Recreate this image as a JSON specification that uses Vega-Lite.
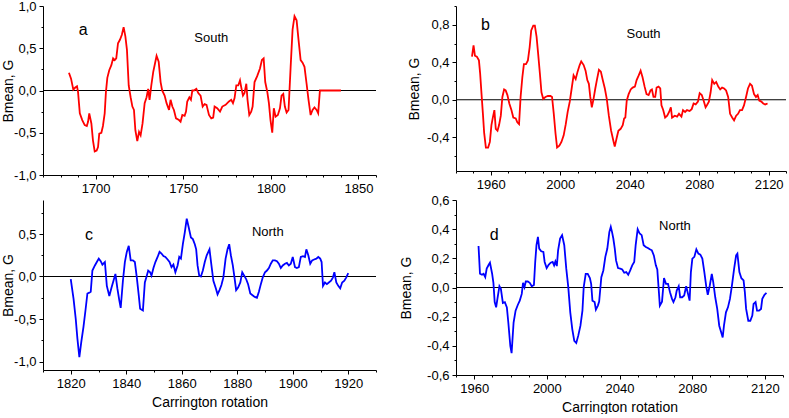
{
"$schema": "https://vega.github.io/schema/vega-lite/v6.json",
"padding": {"left": 1, "top": 0, "right": 0, "bottom": 0},
"config": {
  "view": {"stroke": null},
  "font": "Liberation Sans",
  "axis": {"domainColor": "black", "tickColor": "black", "labelColor": "black", "titleColor": "black", "labelFont": "Liberation Sans", "titleFont": "Liberation Sans", "labelFontSize": 13, "titleFontSize": 14, "titleFontWeight": "normal", "grid": false, "labelPadding": 3, "tickSize": 4, "domainWidth": 1, "tickWidth": 1, "labelOverlap": false, "labelBound": false, "tickCount": 100}
},
"datasets": {
"a": [{"r":1684.8,"B":0.21},{"r":1686,"B":0.14},{"r":1687.3,"B":0.01},{"r":1688.4,"B":0.035},{"r":1689.4,"B":0.05},{"r":1690,"B":-0.02},{"r":1691,"B":-0.27},{"r":1692.4,"B":-0.35},{"r":1693.8,"B":-0.41},{"r":1695,"B":-0.42},{"r":1695.7,"B":-0.37},{"r":1696.4,"B":-0.27},{"r":1697.6,"B":-0.39},{"r":1698.5,"B":-0.59},{"r":1699.5,"B":-0.72},{"r":1700.6,"B":-0.71},{"r":1701.4,"B":-0.67},{"r":1702.1,"B":-0.51},{"r":1703.3,"B":-0.5},{"r":1704.2,"B":-0.42},{"r":1705.2,"B":-0.27},{"r":1705.9,"B":-0.02},{"r":1706.7,"B":0.15},{"r":1707.8,"B":0.24},{"r":1709,"B":0.3},{"r":1710,"B":0.38},{"r":1710.9,"B":0.36},{"r":1711.8,"B":0.38},{"r":1712.8,"B":0.56},{"r":1713.9,"B":0.6},{"r":1715,"B":0.66},{"r":1716,"B":0.75},{"r":1717,"B":0.64},{"r":1717.9,"B":0.48},{"r":1718.9,"B":0.06},{"r":1720,"B":-0.08},{"r":1721,"B":-0.19},{"r":1721.9,"B":-0.23},{"r":1722.7,"B":-0.47},{"r":1723.8,"B":-0.6},{"r":1724.8,"B":-0.49},{"r":1725.7,"B":-0.53},{"r":1726.8,"B":-0.39},{"r":1728,"B":-0.15},{"r":1729.1,"B":-0.08},{"r":1730,"B":0.02},{"r":1730.8,"B":-0.11},{"r":1731.8,"B":0.06},{"r":1732.9,"B":0.22},{"r":1733.9,"B":0.32},{"r":1734.8,"B":0.41},{"r":1736,"B":0.34},{"r":1737.1,"B":0.1},{"r":1738,"B":0.0},{"r":1739.4,"B":-0.06},{"r":1740.5,"B":-0.15},{"r":1741.9,"B":-0.23},{"r":1742.8,"B":-0.11},{"r":1743.8,"B":-0.19},{"r":1744.7,"B":-0.23},{"r":1745.9,"B":-0.33},{"r":1747.6,"B":-0.35},{"r":1748.5,"B":-0.37},{"r":1749.5,"B":-0.29},{"r":1750.8,"B":-0.3},{"r":1751.6,"B":-0.25},{"r":1752.3,"B":-0.13},{"r":1753.5,"B":-0.08},{"r":1754.4,"B":-0.11},{"r":1755.2,"B":0.0},{"r":1756.1,"B":0.0},{"r":1757.5,"B":0.02},{"r":1758.6,"B":-0.03},{"r":1759.9,"B":-0.06},{"r":1761.1,"B":-0.19},{"r":1762.2,"B":-0.16},{"r":1763.3,"B":-0.17},{"r":1764.7,"B":-0.29},{"r":1766,"B":-0.33},{"r":1767.1,"B":-0.32},{"r":1767.9,"B":-0.19},{"r":1769.4,"B":-0.21},{"r":1771,"B":-0.25},{"r":1772.3,"B":-0.19},{"r":1774.2,"B":-0.17},{"r":1776.1,"B":-0.13},{"r":1777.4,"B":-0.11},{"r":1778.4,"B":-0.15},{"r":1779.3,"B":-0.09},{"r":1780.3,"B":0.06},{"r":1781.4,"B":0.06},{"r":1782.4,"B":0.12},{"r":1783.1,"B":0.04},{"r":1784.1,"B":-0.06},{"r":1785,"B":-0.03},{"r":1786,"B":0.08},{"r":1786.7,"B":-0.11},{"r":1787.7,"B":-0.29},{"r":1788.8,"B":-0.25},{"r":1789.6,"B":-0.19},{"r":1790.7,"B":0.1},{"r":1792.2,"B":0.17},{"r":1793.8,"B":0.26},{"r":1794.9,"B":0.36},{"r":1795.9,"B":0.38},{"r":1796.8,"B":0.1},{"r":1798,"B":-0.02},{"r":1798.9,"B":-0.15},{"r":1799.8,"B":-0.35},{"r":1800.8,"B":-0.5},{"r":1801.7,"B":-0.21},{"r":1802.7,"B":-0.31},{"r":1804,"B":-0.29},{"r":1805.2,"B":-0.21},{"r":1806.1,"B":-0.06},{"r":1807.1,"B":-0.04},{"r":1808,"B":-0.19},{"r":1809,"B":-0.26},{"r":1810.1,"B":-0.23},{"r":1811.3,"B":0.28},{"r":1812.4,"B":0.72},{"r":1813.5,"B":0.88},{"r":1814.7,"B":0.83},{"r":1815.8,"B":0.6},{"r":1817,"B":0.36},{"r":1818.1,"B":0.33},{"r":1819.2,"B":0.28},{"r":1820.4,"B":0.08},{"r":1821.5,"B":-0.11},{"r":1822.7,"B":-0.29},{"r":1823.8,"B":-0.23},{"r":1824.9,"B":-0.2},{"r":1826.1,"B":-0.23},{"r":1827,"B":-0.27},{"r":1828,"B":0.0},{"r":1840,"B":0.0}],
"b": [{"r":1949.2,"B":0.46},{"r":1950.1,"B":0.58},{"r":1950.9,"B":0.47},{"r":1952,"B":0.46},{"r":1953.2,"B":0.42},{"r":1953.9,"B":0.28},{"r":1954.7,"B":0.06},{"r":1955.5,"B":-0.15},{"r":1956.2,"B":-0.35},{"r":1957.2,"B":-0.51},{"r":1958.5,"B":-0.51},{"r":1959.5,"B":-0.45},{"r":1960.4,"B":-0.27},{"r":1961.2,"B":-0.19},{"r":1962.1,"B":-0.11},{"r":1962.9,"B":-0.31},{"r":1963.9,"B":-0.33},{"r":1964.8,"B":-0.27},{"r":1965.8,"B":-0.17},{"r":1966.7,"B":0.03},{"r":1967.7,"B":0.11},{"r":1968.6,"B":0.1},{"r":1969.6,"B":0.05},{"r":1970.7,"B":-0.04},{"r":1971.9,"B":-0.11},{"r":1973,"B":-0.19},{"r":1974.4,"B":-0.2},{"r":1975.3,"B":-0.24},{"r":1976.3,"B":-0.26},{"r":1977.2,"B":0.03},{"r":1978.2,"B":0.24},{"r":1979.1,"B":0.38},{"r":1980.3,"B":0.38},{"r":1981.4,"B":0.42},{"r":1982.4,"B":0.56},{"r":1983.3,"B":0.74},{"r":1984.5,"B":0.79},{"r":1985.4,"B":0.79},{"r":1986.4,"B":0.67},{"r":1987.3,"B":0.49},{"r":1988.3,"B":0.28},{"r":1989.2,"B":0.08},{"r":1990.2,"B":0.01},{"r":1991.5,"B":0.03},{"r":1992.9,"B":0.04},{"r":1994.4,"B":0.04},{"r":1995.3,"B":0.03},{"r":1996.3,"B":-0.15},{"r":1997.3,"B":-0.36},{"r":1998.2,"B":-0.51},{"r":1999.5,"B":-0.49},{"r":2000.7,"B":-0.45},{"r":2002,"B":-0.38},{"r":2003.2,"B":-0.26},{"r":2004.3,"B":-0.13},{"r":2005.5,"B":-0.02},{"r":2006.6,"B":0.12},{"r":2007.7,"B":0.26},{"r":2008.9,"B":0.22},{"r":2010,"B":0.3},{"r":2011.2,"B":0.37},{"r":2012.1,"B":0.41},{"r":2013.5,"B":0.37},{"r":2014.6,"B":0.31},{"r":2015.6,"B":0.21},{"r":2016.5,"B":0.17},{"r":2017.3,"B":0.03},{"r":2018.2,"B":-0.08},{"r":2019.2,"B":0.01},{"r":2020.2,"B":0.12},{"r":2021.1,"B":0.21},{"r":2022.3,"B":0.32},{"r":2023.4,"B":0.3},{"r":2024.5,"B":0.21},{"r":2025.7,"B":0.12},{"r":2026.8,"B":0.01},{"r":2028,"B":-0.17},{"r":2029.3,"B":-0.33},{"r":2030.5,"B":-0.43},{"r":2031.4,"B":-0.5},{"r":2032.6,"B":-0.4},{"r":2033.5,"B":-0.33},{"r":2034.8,"B":-0.31},{"r":2036,"B":-0.27},{"r":2036.8,"B":-0.2},{"r":2037.5,"B":-0.19},{"r":2038.3,"B":-0.01},{"r":2039.4,"B":0.06},{"r":2040.6,"B":0.11},{"r":2041.7,"B":0.13},{"r":2043,"B":0.14},{"r":2044,"B":0.21},{"r":2045.2,"B":0.26},{"r":2046.3,"B":0.31},{"r":2047.4,"B":0.24},{"r":2048.6,"B":0.14},{"r":2049.7,"B":0.06},{"r":2050.9,"B":0.05},{"r":2052,"B":0.1},{"r":2052.8,"B":0.11},{"r":2053.7,"B":0.03},{"r":2054.7,"B":0.03},{"r":2055.5,"B":0.13},{"r":2056.6,"B":0.14},{"r":2057.6,"B":0.12},{"r":2058.3,"B":-0.06},{"r":2059.3,"B":-0.11},{"r":2060.4,"B":-0.19},{"r":2061.6,"B":-0.17},{"r":2062.7,"B":-0.13},{"r":2063.7,"B":-0.08},{"r":2064.4,"B":-0.19},{"r":2066,"B":-0.17},{"r":2067.3,"B":-0.18},{"r":2068.4,"B":-0.15},{"r":2069.8,"B":-0.18},{"r":2070.7,"B":-0.11},{"r":2071.9,"B":-0.13},{"r":2073,"B":-0.11},{"r":2074.5,"B":-0.12},{"r":2075.7,"B":-0.1},{"r":2076.8,"B":-0.04},{"r":2078,"B":-0.05},{"r":2079.3,"B":-0.02},{"r":2080.3,"B":0.07},{"r":2081.5,"B":0.05},{"r":2082.6,"B":-0.01},{"r":2083.7,"B":-0.08},{"r":2084.7,"B":-0.05},{"r":2085.6,"B":-0.02},{"r":2086.6,"B":0.08},{"r":2087.5,"B":0.21},{"r":2088.7,"B":0.17},{"r":2089.8,"B":0.19},{"r":2091,"B":0.14},{"r":2092.1,"B":0.11},{"r":2093.2,"B":0.13},{"r":2094.4,"B":0.12},{"r":2095.5,"B":0.1},{"r":2096.7,"B":0.03},{"r":2097.8,"B":-0.15},{"r":2099,"B":-0.19},{"r":2100.1,"B":-0.22},{"r":2101.3,"B":-0.17},{"r":2102.4,"B":-0.15},{"r":2103.5,"B":-0.11},{"r":2104.7,"B":-0.11},{"r":2105.8,"B":-0.06},{"r":2107,"B":0.03},{"r":2108.1,"B":0.12},{"r":2109.3,"B":0.17},{"r":2110.4,"B":0.15},{"r":2111.6,"B":0.06},{"r":2112.7,"B":0.03},{"r":2113.7,"B":0.05},{"r":2114.6,"B":-0.01},{"r":2115.8,"B":-0.02},{"r":2116.9,"B":-0.04},{"r":2118,"B":-0.05},{"r":2119.4,"B":-0.04}],
"c": [{"r":1820,"B":-0.03},{"r":1821,"B":-0.26},{"r":1821.8,"B":-0.5},{"r":1822.4,"B":-0.73},{"r":1823.1,"B":-0.95},{"r":1823.8,"B":-0.77},{"r":1824.6,"B":-0.59},{"r":1825.3,"B":-0.4},{"r":1826,"B":-0.2},{"r":1826.7,"B":-0.19},{"r":1827.2,"B":-0.18},{"r":1827.8,"B":0.07},{"r":1828.7,"B":0.13},{"r":1829.4,"B":0.17},{"r":1830.1,"B":0.21},{"r":1830.8,"B":0.18},{"r":1831.4,"B":0.14},{"r":1832.3,"B":0.17},{"r":1833,"B":-0.11},{"r":1833.9,"B":-0.23},{"r":1834.7,"B":-0.13},{"r":1835.4,"B":-0.05},{"r":1836.1,"B":0.03},{"r":1836.8,"B":-0.14},{"r":1837.5,"B":-0.28},{"r":1838,"B":-0.37},{"r":1838.8,"B":-0.05},{"r":1839.5,"B":0.17},{"r":1840.2,"B":0.29},{"r":1840.9,"B":0.36},{"r":1841.6,"B":0.19},{"r":1842.4,"B":0.19},{"r":1843.1,"B":0.17},{"r":1843.8,"B":-0.01},{"r":1844.5,"B":-0.22},{"r":1845,"B":-0.38},{"r":1846,"B":-0.4},{"r":1846.7,"B":-0.07},{"r":1847.4,"B":0.01},{"r":1847.9,"B":0.07},{"r":1848.6,"B":0.05},{"r":1849.1,"B":0.01},{"r":1849.8,"B":0.1},{"r":1850.5,"B":0.17},{"r":1851.3,"B":0.23},{"r":1852,"B":0.29},{"r":1852.7,"B":0.27},{"r":1853.4,"B":0.24},{"r":1854.1,"B":0.23},{"r":1854.9,"B":0.2},{"r":1855.6,"B":0.17},{"r":1856.3,"B":0.11},{"r":1857,"B":0.14},{"r":1857.7,"B":0.05},{"r":1858.5,"B":0.13},{"r":1859.1,"B":0.23},{"r":1859.7,"B":0.21},{"r":1860.4,"B":0.38},{"r":1861.1,"B":0.52},{"r":1861.8,"B":0.68},{"r":1862.5,"B":0.58},{"r":1863.3,"B":0.46},{"r":1864,"B":0.44},{"r":1864.7,"B":0.38},{"r":1865.2,"B":0.32},{"r":1865.7,"B":0.13},{"r":1866.3,"B":0.01},{"r":1866.9,"B":0.0},{"r":1867.6,"B":0.07},{"r":1868.3,"B":0.17},{"r":1869,"B":0.25},{"r":1870,"B":0.32},{"r":1870.7,"B":0.13},{"r":1871.4,"B":-0.05},{"r":1872.3,"B":-0.14},{"r":1872.9,"B":-0.21},{"r":1873.6,"B":-0.16},{"r":1874.3,"B":-0.1},{"r":1875,"B":-0.01},{"r":1875.8,"B":0.21},{"r":1876.5,"B":0.32},{"r":1877.1,"B":0.38},{"r":1877.7,"B":0.25},{"r":1878.4,"B":0.13},{"r":1879,"B":-0.01},{"r":1879.6,"B":-0.16},{"r":1880.3,"B":-0.13},{"r":1881.1,"B":-0.07},{"r":1881.8,"B":0.05},{"r":1882.5,"B":0.01},{"r":1883.2,"B":-0.03},{"r":1883.9,"B":-0.09},{"r":1884.7,"B":-0.2},{"r":1885.5,"B":-0.22},{"r":1886.3,"B":-0.24},{"r":1887.1,"B":-0.25},{"r":1887.8,"B":-0.18},{"r":1888.5,"B":-0.09},{"r":1889.2,"B":-0.01},{"r":1890,"B":0.05},{"r":1890.7,"B":0.07},{"r":1891.4,"B":0.1},{"r":1892.1,"B":0.15},{"r":1892.8,"B":0.19},{"r":1893.6,"B":0.19},{"r":1894.3,"B":0.18},{"r":1895,"B":0.15},{"r":1895.7,"B":0.1},{"r":1896.4,"B":0.13},{"r":1897.2,"B":0.15},{"r":1897.9,"B":0.16},{"r":1898.6,"B":0.13},{"r":1899.3,"B":0.15},{"r":1900,"B":0.23},{"r":1900.8,"B":0.11},{"r":1901.5,"B":0.1},{"r":1902.2,"B":0.11},{"r":1902.9,"B":0.23},{"r":1903.7,"B":0.24},{"r":1904.4,"B":0.23},{"r":1904.9,"B":0.32},{"r":1905.6,"B":0.25},{"r":1906.3,"B":0.15},{"r":1907,"B":0.19},{"r":1907.7,"B":0.2},{"r":1908.5,"B":0.21},{"r":1909.2,"B":0.23},{"r":1909.9,"B":0.21},{"r":1910.4,"B":0.17},{"r":1910.9,"B":-0.11},{"r":1911.6,"B":-0.07},{"r":1912.3,"B":-0.09},{"r":1913,"B":-0.07},{"r":1913.8,"B":-0.05},{"r":1914.5,"B":-0.01},{"r":1915,"B":0.05},{"r":1915.7,"B":-0.07},{"r":1916.4,"B":-0.11},{"r":1917.1,"B":-0.14},{"r":1917.8,"B":-0.07},{"r":1918.6,"B":-0.05},{"r":1919.3,"B":-0.01},{"r":1920,"B":0.04}],
"d": [{"r":1962.4,"B":0.285},{"r":1963.2,"B":0.094},{"r":1964.3,"B":0.087},{"r":1965.2,"B":0.094},{"r":1966.1,"B":0.071},{"r":1966.9,"B":0.13},{"r":1968,"B":0.156},{"r":1968.7,"B":0.17},{"r":1969.9,"B":0.094},{"r":1970.6,"B":0.032},{"r":1971.3,"B":-0.1},{"r":1972.1,"B":-0.136},{"r":1972.8,"B":-0.078},{"r":1973.9,"B":0.009},{"r":1974.7,"B":-0.009},{"r":1975.8,"B":-0.106},{"r":1976.9,"B":-0.1},{"r":1978,"B":-0.136},{"r":1978.8,"B":-0.24},{"r":1979.9,"B":-0.4},{"r":1980.6,"B":-0.45},{"r":1981.7,"B":-0.24},{"r":1982.8,"B":-0.159},{"r":1984,"B":-0.12},{"r":1985.1,"B":-0.09},{"r":1986.2,"B":-0.044},{"r":1986.9,"B":0.032},{"r":1987.7,"B":0.002},{"r":1988.4,"B":0.041},{"r":1989.5,"B":0.041},{"r":1990.6,"B":0.032},{"r":1991.7,"B":0.009},{"r":1992.9,"B":0.018},{"r":1993.6,"B":0.175},{"r":1994.3,"B":0.29},{"r":1995.1,"B":0.347},{"r":1995.8,"B":0.267},{"r":1996.9,"B":0.248},{"r":1998.1,"B":0.244},{"r":1998.8,"B":0.175},{"r":1999.9,"B":0.133},{"r":2001,"B":0.156},{"r":2002.1,"B":0.17},{"r":2003.2,"B":0.175},{"r":2004,"B":0.152},{"r":2004.7,"B":0.179},{"r":2005.5,"B":0.147},{"r":2006.2,"B":0.255},{"r":2007.3,"B":0.336},{"r":2008.4,"B":0.359},{"r":2009.6,"B":0.29},{"r":2010.7,"B":0.129},{"r":2011.8,"B":0.002},{"r":2012.9,"B":-0.17},{"r":2014,"B":-0.285},{"r":2015.1,"B":-0.366},{"r":2016.2,"B":-0.38},{"r":2017.3,"B":-0.33},{"r":2018.5,"B":-0.262},{"r":2019.6,"B":-0.159},{"r":2020.3,"B":0.002},{"r":2021.4,"B":0.094},{"r":2022.5,"B":0.094},{"r":2023.7,"B":0.064},{"r":2024.4,"B":0.025},{"r":2025.1,"B":-0.09},{"r":2026.3,"B":-0.1},{"r":2027,"B":-0.152},{"r":2028.1,"B":-0.124},{"r":2028.8,"B":-0.097},{"r":2030,"B":0.071},{"r":2031.1,"B":0.117},{"r":2032.2,"B":0.21},{"r":2033.3,"B":0.267},{"r":2034.4,"B":0.38},{"r":2035.2,"B":0.416},{"r":2035.9,"B":0.38},{"r":2036.6,"B":0.336},{"r":2037.4,"B":0.267},{"r":2038.1,"B":0.186},{"r":2039.2,"B":0.133},{"r":2040.4,"B":0.129},{"r":2041.5,"B":0.124},{"r":2042.6,"B":0.101},{"r":2043.7,"B":0.106},{"r":2044.8,"B":0.087},{"r":2045.9,"B":0.117},{"r":2047,"B":0.152},{"r":2048.1,"B":0.175},{"r":2048.9,"B":0.29},{"r":2050,"B":0.4},{"r":2051.1,"B":0.37},{"r":2052.2,"B":0.359},{"r":2053.3,"B":0.29},{"r":2054.5,"B":0.278},{"r":2055.6,"B":0.271},{"r":2056.7,"B":0.262},{"r":2057.8,"B":0.255},{"r":2058.9,"B":0.22},{"r":2060,"B":0.152},{"r":2060.8,"B":0.124},{"r":2061.5,"B":0.002},{"r":2062.2,"B":-0.124},{"r":2063.4,"B":-0.097},{"r":2064.5,"B":0.064},{"r":2065.6,"B":0.025},{"r":2066.7,"B":0.025},{"r":2067.8,"B":-0.032},{"r":2068.9,"B":-0.078},{"r":2069.7,"B":-0.1},{"r":2070.8,"B":-0.067},{"r":2071.5,"B":-0.021},{"r":2072.6,"B":0.009},{"r":2073.4,"B":-0.067},{"r":2074.5,"B":-0.067},{"r":2075.6,"B":-0.055},{"r":2076.7,"B":0.009},{"r":2077.5,"B":-0.032},{"r":2078.6,"B":-0.09},{"r":2079.3,"B":0.106},{"r":2080.1,"B":0.198},{"r":2081.2,"B":0.21},{"r":2082.3,"B":0.262},{"r":2083.4,"B":0.232},{"r":2084.5,"B":0.225},{"r":2085.6,"B":0.198},{"r":2086.7,"B":0.106},{"r":2087.8,"B":0.002},{"r":2088.6,"B":-0.05},{"r":2089.7,"B":0.014},{"r":2090.8,"B":0.094},{"r":2091.6,"B":0.037},{"r":2092.7,"B":-0.067},{"r":2093.8,"B":-0.147},{"r":2094.9,"B":-0.262},{"r":2096,"B":-0.308},{"r":2096.8,"B":-0.343},{"r":2097.5,"B":-0.262},{"r":2098.6,"B":-0.17},{"r":2099.7,"B":-0.136},{"r":2100.8,"B":-0.078},{"r":2101.9,"B":0.014},{"r":2103.1,"B":0.129},{"r":2104.2,"B":0.22},{"r":2104.9,"B":0.232},{"r":2106,"B":0.106},{"r":2107.1,"B":0.064},{"r":2108.3,"B":0.048},{"r":2109,"B":-0.032},{"r":2109.7,"B":-0.147},{"r":2110.9,"B":-0.228},{"r":2112,"B":-0.228},{"r":2113.1,"B":-0.193},{"r":2113.8,"B":-0.113},{"r":2114.9,"B":-0.1},{"r":2115.7,"B":-0.159},{"r":2116.8,"B":-0.159},{"r":2117.9,"B":-0.147},{"r":2118.6,"B":-0.078},{"r":2119.8,"B":-0.05},{"r":2120.9,"B":-0.037}]
},
"columns": 2,
"spacing": {"row": 25, "column": 80},
"bounds": "flush",
"concat": [
  {"width": 333, "height": 169,
   "layer": [
    {"data": {"values": [{}]}, "mark": {"type": "rule", "color": "black", "strokeWidth": 1}, "encoding": {"y": {"datum": 0, "type": "quantitative", "title": "Bmean, G"}}},
    {"data": {"name": "a"}, "mark": {"type": "line", "color": "#ff0000", "strokeWidth": 1.8},
     "encoding": {
      "x": {"field": "r", "type": "quantitative", "scale": {"domain": [1670, 1860], "nice": false, "zero": false},
            "axis": {"title": null, "tickCount": 100, "labelOverlap": false, "values": [1670,1680,1690,1700,1710,1720,1730,1740,1750,1760,1770,1780,1790,1800,1810,1820,1830,1840,1850,1860], "format": "d", "labelExpr": "datum.value % 50 === 0 ? datum.label : ''", "tickSize": {"condition": {"test": "datum.value % 50 === 0", "value": 4}, "value": 2}}},
      "y": {"field": "B", "type": "quantitative", "title": "Bmean, G", "scale": {"domain": [-1, 1], "nice": false, "zero": false},
            "axis": {"titlePadding": -2, "tickCount": 100, "labelOverlap": false, "values": [-1,-0.75,-0.5,-0.25,0,0.25,0.5,0.75,1], "labelExpr": "abs(round(datum.value*100)) % 50 === 0 ? (datum.value < 0 ? '-' : '') + replace(format(abs(datum.value), '.1f'), '.', ',') : ''", "tickSize": {"condition": {"test": "abs(round(datum.value*100)) % 50 === 0", "value": 4}, "value": 2}}}
     }},
    {"data": {"values": [{}]}, "mark": {"type": "text", "fontSize": 16, "text": "a", "color": "black"}, "encoding": {"x": {"datum": 1693, "type": "quantitative"}, "y": {"datum": 0.72, "type": "quantitative", "title": "Bmean, G"}}},
    {"data": {"values": [{}]}, "mark": {"type": "text", "fontSize": 13, "text": "South", "color": "black"}, "encoding": {"x": {"datum": 1766, "type": "quantitative"}, "y": {"datum": 0.62, "type": "quantitative", "title": "Bmean, G"}}}
   ]},
  {"width": 330, "height": 165,
   "layer": [
    {"data": {"values": [{}]}, "mark": {"type": "rule", "color": "black", "strokeWidth": 1}, "encoding": {"y": {"datum": 0, "type": "quantitative", "title": "Bmean, G"}}},
    {"data": {"name": "b"}, "mark": {"type": "line", "color": "#ff0000", "strokeWidth": 1.8},
     "encoding": {
      "x": {"field": "r", "type": "quantitative", "scale": {"domain": [1940, 2130], "nice": false, "zero": false},
            "axis": {"title": null, "tickCount": 100, "labelOverlap": false, "values": [1940,1950,1960,1970,1980,1990,2000,2010,2020,2030,2040,2050,2060,2070,2080,2090,2100,2110,2120,2130], "format": "d", "labelExpr": "(datum.value - 1960) % 40 === 0 ? datum.label : ''", "tickSize": {"condition": {"test": "(datum.value - 1960) % 40 === 0", "value": 4}, "value": 2}}},
      "y": {"field": "B", "type": "quantitative", "title": "Bmean, G", "scale": {"domain": [-0.76, 1.0], "nice": false, "zero": false},
            "axis": {"titlePadding": 5, "tickCount": 100, "labelOverlap": false, "values": [-0.6,-0.4,-0.2,0,0.2,0.4,0.6,0.8,1.0], "labelExpr": "abs(round(datum.value*10)) % 4 === 0 ? (datum.value < 0 ? '-' : '') + replace(format(abs(datum.value), '.1f'), '.', ',') : ''", "tickSize": {"condition": {"test": "abs(round(datum.value*10)) % 4 === 0", "value": 4}, "value": 2}}}
     }},
    {"data": {"values": [{}]}, "mark": {"type": "text", "fontSize": 16, "text": "b", "color": "black"}, "encoding": {"x": {"datum": 1957, "type": "quantitative"}, "y": {"datum": 0.8, "type": "quantitative", "title": "Bmean, G"}}},
    {"data": {"values": [{}]}, "mark": {"type": "text", "fontSize": 13, "text": "South", "color": "black"}, "encoding": {"x": {"datum": 2048, "type": "quantitative"}, "y": {"datum": 0.7, "type": "quantitative", "title": "Bmean, G"}}}
   ]},
  {"width": 333, "height": 170,
   "layer": [
    {"data": {"values": [{}]}, "mark": {"type": "rule", "color": "black", "strokeWidth": 1}, "encoding": {"y": {"datum": 0, "type": "quantitative", "title": "Bmean, G"}}},
    {"data": {"name": "c"}, "mark": {"type": "line", "color": "#0000ff", "strokeWidth": 1.8},
     "encoding": {
      "x": {"field": "r", "type": "quantitative", "title": "Carrington rotation", "scale": {"domain": [1810, 1930], "nice": false, "zero": false},
            "axis": {"titlePadding": 5, "tickCount": 100, "labelOverlap": false, "values": [1810,1820,1830,1840,1850,1860,1870,1880,1890,1900,1910,1920,1930], "format": "d", "labelExpr": "datum.value % 20 === 0 ? datum.label : ''", "tickSize": {"condition": {"test": "datum.value % 20 === 0", "value": 4}, "value": 2}}},
      "y": {"field": "B", "type": "quantitative", "title": "Bmean, G", "scale": {"domain": [-1.1, 0.9], "nice": false, "zero": false},
            "axis": {"titlePadding": -2, "tickCount": 100, "labelOverlap": false, "values": [-1,-0.75,-0.5,-0.25,0,0.25,0.5,0.75], "labelExpr": "abs(round(datum.value*100)) % 50 === 0 ? (datum.value < 0 ? '-' : '') + replace(format(abs(datum.value), '.1f'), '.', ',') : ''", "tickSize": {"condition": {"test": "abs(round(datum.value*100)) % 50 === 0", "value": 4}, "value": 2}}}
     }},
    {"data": {"values": [{}]}, "mark": {"type": "text", "fontSize": 16, "text": "c", "color": "black"}, "encoding": {"x": {"datum": 1826.6, "type": "quantitative", "title": "Carrington rotation"}, "y": {"datum": 0.49, "type": "quantitative", "title": "Bmean, G"}}},
    {"data": {"values": [{}]}, "mark": {"type": "text", "fontSize": 13, "text": "North", "color": "black"}, "encoding": {"x": {"datum": 1891, "type": "quantitative", "title": "Carrington rotation"}, "y": {"datum": 0.52, "type": "quantitative", "title": "Bmean, G"}}}
   ]},
  {"width": 327, "height": 175,
   "layer": [
    {"data": {"values": [{}]}, "mark": {"type": "rule", "color": "black", "strokeWidth": 1}, "encoding": {"y": {"datum": 0, "type": "quantitative", "title": "Bmean, G"}}},
    {"data": {"name": "d"}, "mark": {"type": "line", "color": "#0000ff", "strokeWidth": 1.8},
     "encoding": {
      "x": {"field": "r", "type": "quantitative", "title": "Carrington rotation", "scale": {"domain": [1950, 2130], "nice": false, "zero": false},
            "axis": {"titlePadding": 5, "tickCount": 100, "labelOverlap": false, "values": [1950,1960,1970,1980,1990,2000,2010,2020,2030,2040,2050,2060,2070,2080,2090,2100,2110,2120,2130], "format": "d", "labelExpr": "(datum.value - 1960) % 40 === 0 ? datum.label : ''", "tickSize": {"condition": {"test": "(datum.value - 1960) % 40 === 0", "value": 4}, "value": 2}}},
      "y": {"field": "B", "type": "quantitative", "title": "Bmean, G", "scale": {"domain": [-0.6, 0.6], "nice": false, "zero": false},
            "axis": {"titlePadding": 13, "tickCount": 100, "labelOverlap": false, "values": [-0.6,-0.5,-0.4,-0.3,-0.2,-0.1,0,0.1,0.2,0.3,0.4,0.5,0.6], "labelExpr": "abs(round(datum.value*10)) % 2 === 0 ? (datum.value < 0 ? '-' : '') + replace(format(abs(datum.value), '.1f'), '.', ',') : ''", "tickSize": {"condition": {"test": "abs(round(datum.value*10)) % 2 === 0", "value": 4}, "value": 2}}}
     }},
    {"data": {"values": [{}]}, "mark": {"type": "text", "fontSize": 16, "text": "d", "color": "black"}, "encoding": {"x": {"datum": 1971, "type": "quantitative", "title": "Carrington rotation"}, "y": {"datum": 0.357, "type": "quantitative", "title": "Bmean, G"}}},
    {"data": {"values": [{}]}, "mark": {"type": "text", "fontSize": 13, "text": "North", "color": "black"}, "encoding": {"x": {"datum": 2070.5, "type": "quantitative", "title": "Carrington rotation"}, "y": {"datum": 0.42, "type": "quantitative", "title": "Bmean, G"}}}
   ]}
]
}
